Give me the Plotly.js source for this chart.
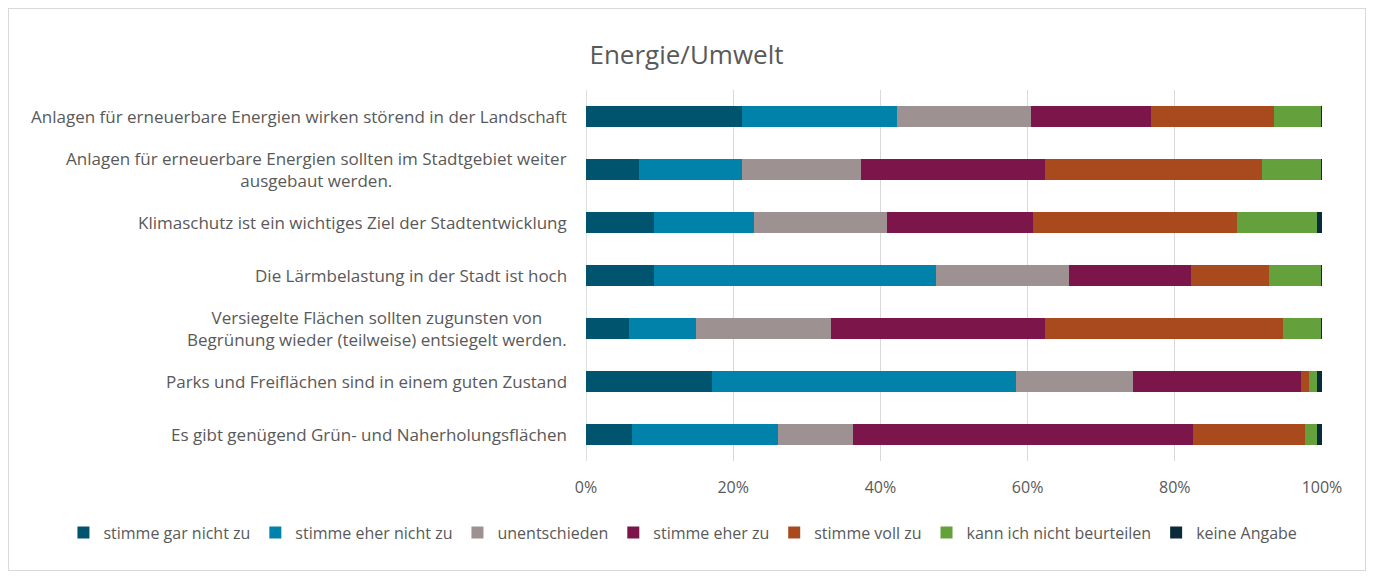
<!DOCTYPE html>
<html>
<head>
<meta charset="utf-8">
<script src="https://cdn.plot.ly/plotly-3.0.1.min.js"></script>
<style>
  html, body { margin: 0; padding: 0; background: #fff; }
  #chart { width: 1373px; height: 576px; }
  #frame { position: absolute; left: 8px; top: 8px; width: 1356px; height: 561px; border: 1px solid #d9d9d9; pointer-events: none; }
</style>
</head>
<body>
<div id="chart"></div>
<div id="frame"></div>
<script>
const categories = [
  "Anlagen für erneuerbare Energien wirken störend in der Landschaft",
  "Anlagen für erneuerbare Energien sollten im Stadtgebiet weiter<br>ausgebaut werden.",
  "Klimaschutz ist ein wichtiges Ziel der Stadtentwicklung",
  "Die Lärmbelastung in der Stadt ist hoch",
  "Versiegelte Flächen sollten zugunsten von<br>Begrünung wieder (teilweise) entsiegelt werden.",
  "Parks und Freiflächen sind in einem guten Zustand",
  "Es gibt genügend Grün- und Naherholungsflächen"
];
const seriesNames = ["stimme gar nicht zu", "stimme eher nicht zu", "unentschieden", "stimme eher zu", "stimme voll zu", "kann ich nicht beurteilen", "keine Angabe"];
const stimmeGarNichtZu   = [21.2, 7.2, 9.2, 9.2, 5.9, 17.1, 6.2];
const stimmeEherNichtZu  = [21.1, 14.0, 13.6, 38.4, 9.0, 41.3, 19.9];
const unentschieden      = [18.1, 16.1, 18.1, 18.0, 18.4, 15.9, 10.2];
const stimmeEherZu       = [16.4, 25.0, 19.9, 16.6, 29.0, 22.8, 46.2];
const stimmeVollZu       = [16.7, 29.5, 27.7, 10.6, 32.4, 1.2, 15.2];
const kannNichtBeurteilen= [6.3, 8.0, 10.8, 7.0, 5.1, 1.0, 1.6];
const keineAngabe        = [0.2, 0.2, 0.7, 0.2, 0.2, 0.7, 0.7];
const tickVals = [0, 20, 40, 60, 80, 100];
const tickText = ["0%", "20%", "40%", "60%", "80%", "100%"];

const colors = ["#00546e", "#0082aa", "#9d9192", "#7b154a", "#a84a1e", "#64a03c", "#0a2b3a"];
const values = [stimmeGarNichtZu, stimmeEherNichtZu, unentschieden, stimmeEherZu, stimmeVollZu, kannNichtBeurteilen, keineAngabe];

const traces = seriesNames.map((name, i) => ({
  type: "bar",
  orientation: "h",
  name: name,
  x: values[i],
  y: categories,
  marker: { color: colors[i], line: { width: 0 } },
  hoverinfo: "x+name"
}));

const labelAnnotations = categories.map(c => ({
  xref: "paper",
  yref: "y",
  x: 0,
  y: c,
  xshift: -17,
  xanchor: "right",
  yanchor: "middle",
  align: "center",
  showarrow: false,
  text: c,
  font: { size: 17, color: "#595959", family: "Open Sans, sans-serif" }
}));

const layout = {
  width: 1373,
  height: 576,
  barmode: "stack",
  bargap: 0.6,
  paper_bgcolor: "#ffffff",
  plot_bgcolor: "#ffffff",
  font: { family: "Open Sans, sans-serif", color: "#595959", size: 16 },
  title: { text: "Energie/Umwelt", x: 0.5, xref: "container", xanchor: "center", y: 0.905, yref: "container", yanchor: "middle", font: { size: 26, color: "#595959", family: "Open Sans, sans-serif" } },
  margin: { l: 586, r: 51, t: 90, b: 115, autoexpand: false },
  xaxis: {
    range: [0, 100],
    tickvals: tickVals,
    ticktext: tickText,
    showgrid: true,
    gridcolor: "#d9d9d9",
    gridwidth: 1,
    zeroline: false,
    showline: false,
    ticks: "",
    ticklabelstandoff: 15,
    tickfont: { size: 16, color: "#595959" },
    fixedrange: true
  },
  yaxis: {
    autorange: "reversed",
    type: "category",
    showgrid: false,
    ticks: "",
    showline: false,
    showticklabels: false,
    fixedrange: true
  },
  annotations: labelAnnotations,
  shapes: [{ type: "line", xref: "x", yref: "paper", x0: 0, x1: 0, y0: 0, y1: 1, line: { color: "#bfbfbf", width: 1 }, layer: "below" }],
  legend: {
    orientation: "h",
    x: -0.71,
    xanchor: "left",
    y: -0.147,
    yanchor: "top",
    font: { size: 16, color: "#595959" },
    itemwidth: 30,
    traceorder: "normal"
  },
  showlegend: true
};

Plotly.newPlot("chart", traces, layout, { displayModeBar: false, staticPlot: true });
</script>
</body>
</html>
